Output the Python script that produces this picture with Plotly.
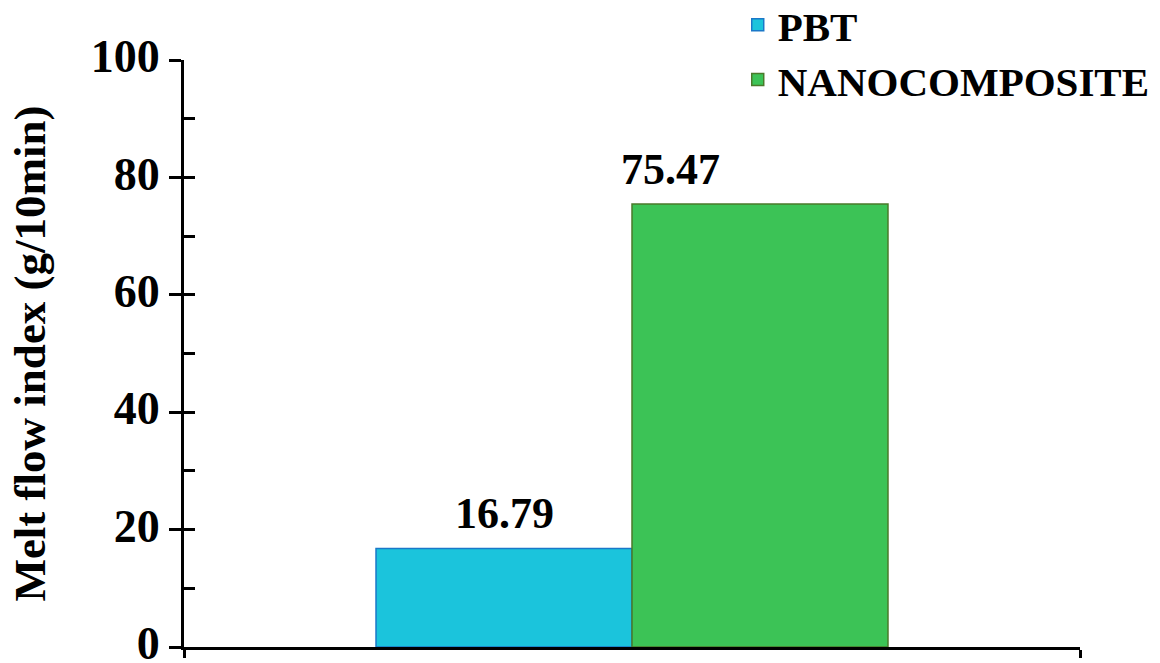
import plotly.graph_objects as go

series = ["PBT", "NANOCOMPOSITE"]
values = [16.79, 75.47]
labels = ["16.79", "75.47"]
colors = ["#1bc4dc", "#3cc356"]
edge_colors = ["#1a78c8", "#4a7a2a"]
y_ticks = [0, 20, 40, 60, 80, 100]

FONT = "Liberation Serif, Times New Roman, serif"
BARGAP = 0.4286

fig = go.Figure()
legends = ["legend", "legend2"]
for i, name in enumerate(series):
    fig.add_trace(go.Bar(
        x=[0], y=[values[i]], name=name,
        marker=dict(color=colors[i], line=dict(color=edge_colors[i], width=1.5)),
        legend=legends[i],
    ))

# value labels (second label sits left-aligned on its bar, as in the original)
bar_w = (1 - BARGAP) / len(series)
fig.add_annotation(x=-bar_w / 2, y=values[0], text=labels[0], showarrow=False,
                   xanchor="center", yanchor="bottom", yshift=8,
                   font=dict(family=FONT, size=44, color="black", weight="bold"))
fig.add_annotation(x=0, y=values[1], text=labels[1], showarrow=False,
                   xanchor="left", yanchor="bottom", yshift=8, xshift=-13,
                   font=dict(family=FONT, size=44, color="black", weight="bold"))

# minor inside ticks via overlaying axis
fig.add_trace(go.Scatter(x=[0], y=[0], yaxis="y2", mode="markers",
                         marker=dict(opacity=0), showlegend=False, hoverinfo="skip"))

fig.update_layout(
    width=1160, height=663,
    margin=dict(l=184, r=80, t=60, b=16, autoexpand=False),
    paper_bgcolor="white", plot_bgcolor="white",
    barmode="group", bargap=BARGAP, bargroupgap=0,
    font=dict(family=FONT, color="black"),
    xaxis=dict(range=[-0.5, 0.5], tickvals=[-0.5, 0.5], ticktext=["", ""],
               showgrid=False, zeroline=False, showline=True, linecolor="black",
               linewidth=3, ticks="outside", ticklen=8, tickwidth=3, tickcolor="black"),
    yaxis=dict(range=[0, 100], tickvals=y_ticks, showgrid=False, zeroline=False,
               showline=True, linecolor="black", linewidth=3,
               ticks="outside", ticklen=12, tickwidth=3, tickcolor="black",
               tickfont=dict(family=FONT, size=46, color="black", weight="bold"),
               ticklabeloverflow="allow", ticklabelshift=-4,
               automargin=False,
               title=dict(text="Melt flow index (g/10min)", standoff=32,
                          font=dict(family=FONT, size=45, color="black", weight="bold"))),
    yaxis2=dict(range=[0, 100], overlaying="y", side="left", dtick=10, tick0=0,
                ticks="inside", ticklen=11, tickwidth=3, tickcolor="black",
                showticklabels=False, showgrid=False, zeroline=False, showline=False),
    legend=dict(x=0.618, y=1.0595, xanchor="left", yanchor="middle",
                bgcolor="rgba(0,0,0,0)",
                font=dict(family=FONT, size=41, color="black", weight="bold")),
    legend2=dict(x=0.618, y=0.966, xanchor="left", yanchor="middle",
                 bgcolor="rgba(0,0,0,0)",
                 font=dict(family=FONT, size=41, color="black", weight="bold")),
)

fig.write_html("out.html")
